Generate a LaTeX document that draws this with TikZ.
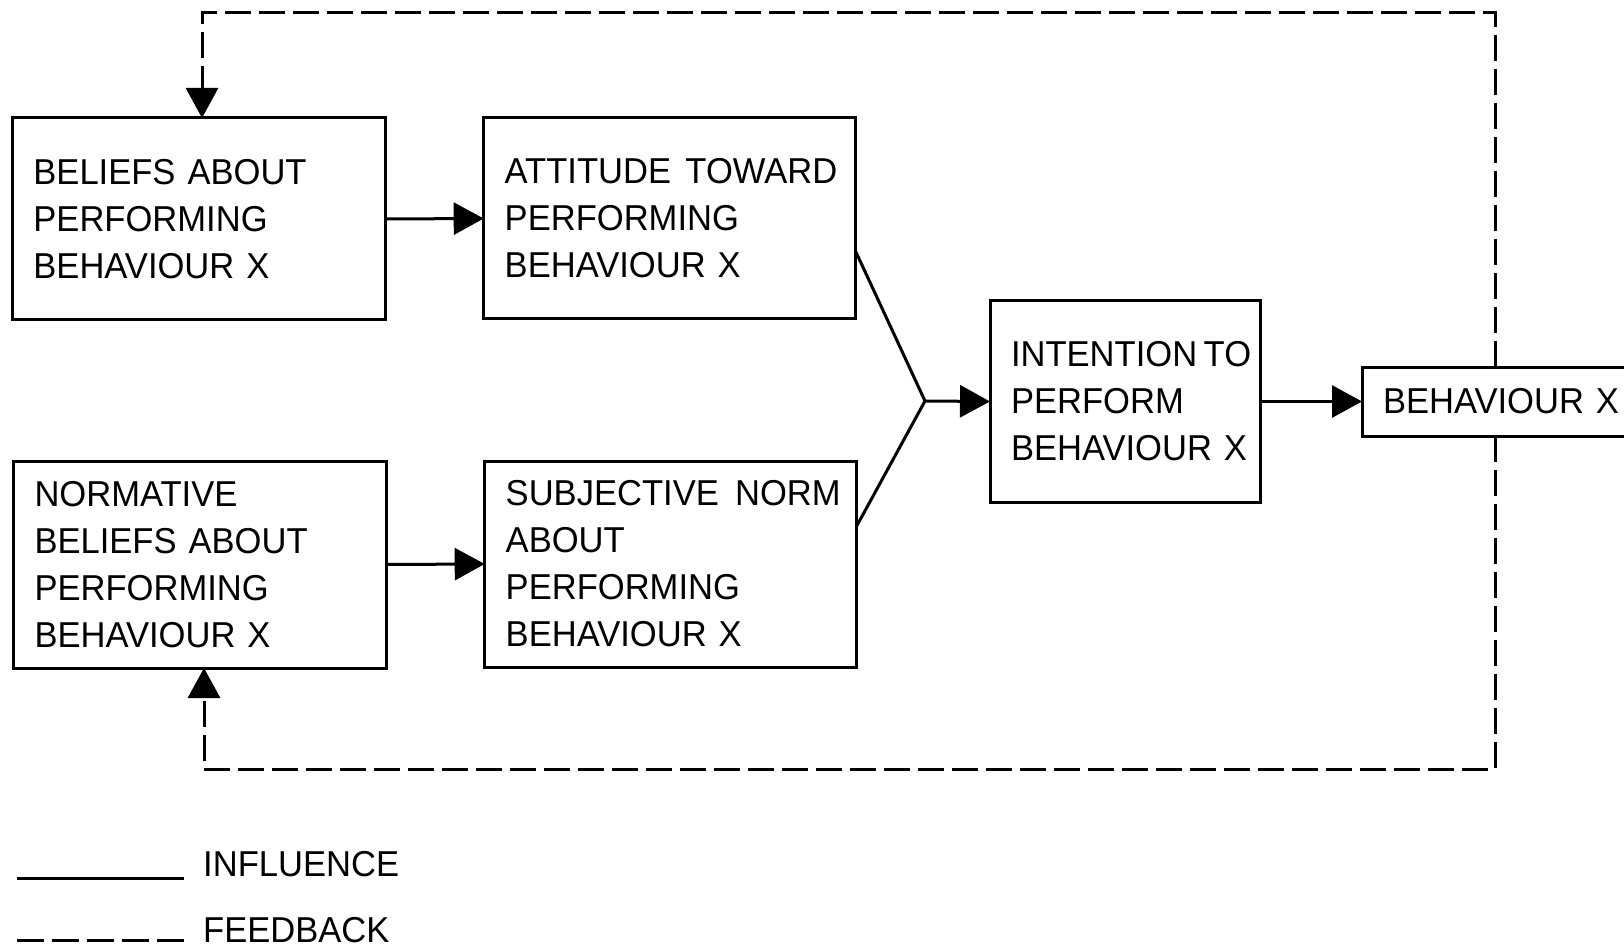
\documentclass[tikz,border=0pt]{standalone}
\usepackage{fontspec}
\setmainfont{Liberation Sans}[FakeStretch=0.96]
\usetikzlibrary{arrows.meta,calc}
\begin{document}
\begin{tikzpicture}[x=1pt,y=-1pt,
  lbl/.style={font=\fontsize{36pt}{47pt}\selectfont},
  box/.style={draw, line width=3pt, rectangle, anchor=north west, align=left,
    inner xsep=21pt, inner ysep=0pt, outer sep=0pt, fill=white, lbl},
  infl/.style={line width=3pt, -{Triangle[length=30pt,width=32pt]}},
  fb/.style={line width=3pt, dash pattern=on 26pt off 8pt, -{Triangle[length=30pt,width=32pt]}},
]
\useasboundingbox (0,0) rectangle (1624,949);
\clip (0,0) rectangle (1624,949);

\node[box, text width=331pt, minimum height=202pt] (b1) at (12.4,118) {\mbox{BELIEFS ABOUT}\\PERFORMING\\\mbox{BEHAVIOUR X}};
\node[box, text width=330pt, minimum height=201pt] (b2) at (483.7,118) {\mbox{ATTITUDE\hspace{0.4em}TOWARD}\\PERFORMING\\\mbox{BEHAVIOUR X}};
\node[box, text width=331pt, minimum height=207pt] (b3) at (13.5,461) {NORMATIVE\\\mbox{BELIEFS ABOUT}\\PERFORMING\\\mbox{BEHAVIOUR X}};
\node[box, text width=330pt, minimum height=206pt] (b4) at (484.7,461) {\mbox{SUBJECTIVE\hspace{0.45em}NORM}\\ABOUT\\PERFORMING\\\mbox{BEHAVIOUR X}};
\node[box, text width=228pt, minimum height=201pt] (b5) at (990,301) {\mbox{INTENTION\hspace{0.18em}TO}\\PERFORM\\\mbox{BEHAVIOUR X}};
\node[box, text width=258pt, minimum height=69pt] (b6) at (1362,367) {\mbox{BEHAVIOUR X}};

\coordinate (J) at (925,401);
\draw[line width=3pt, line join=miter] ([yshift=-33pt]b2.east) -- (J) -- ([yshift=38pt]b4.east);
\draw[infl] (J) -- (b5.west);
\draw[infl] (b5.east) -- (b6.west);
\draw[infl] (b1.east) -- (b2.west);
\draw[infl] (b3.east) -- (b4.west);

\coordinate (fTR) at (1495,13);
\coordinate (fTL) at (202,13);
\coordinate (fBR) at (1495,769);
\coordinate (fBL) at (204,769);
\draw[fb] (b6.north -| fTR) -- (fTR) -- (fTL) -- (fTL |- b1.north);
\draw[fb] (b6.south -| fBR) -- (fBR) -- (fBL) -- (fBL |- b3.south);

\coordinate (l1a) at (16.6,878);
\coordinate (l1b) at (184.4,878);
\coordinate (l2a) at (16.6,940);
\coordinate (l2b) at (184.4,940);
\draw[line width=3pt] (l1a) -- (l1b);
\draw[line width=3pt, dash pattern=on 27pt off 8pt] (l2a) -- (l2b);
\node[lbl, anchor=base west, inner sep=0pt] (li) at (203,876) {INFLUENCE};
\node[lbl, anchor=base west, inner sep=0pt] (lf) at (203,942) {FEEDBACK};
\end{tikzpicture}
\end{document}
